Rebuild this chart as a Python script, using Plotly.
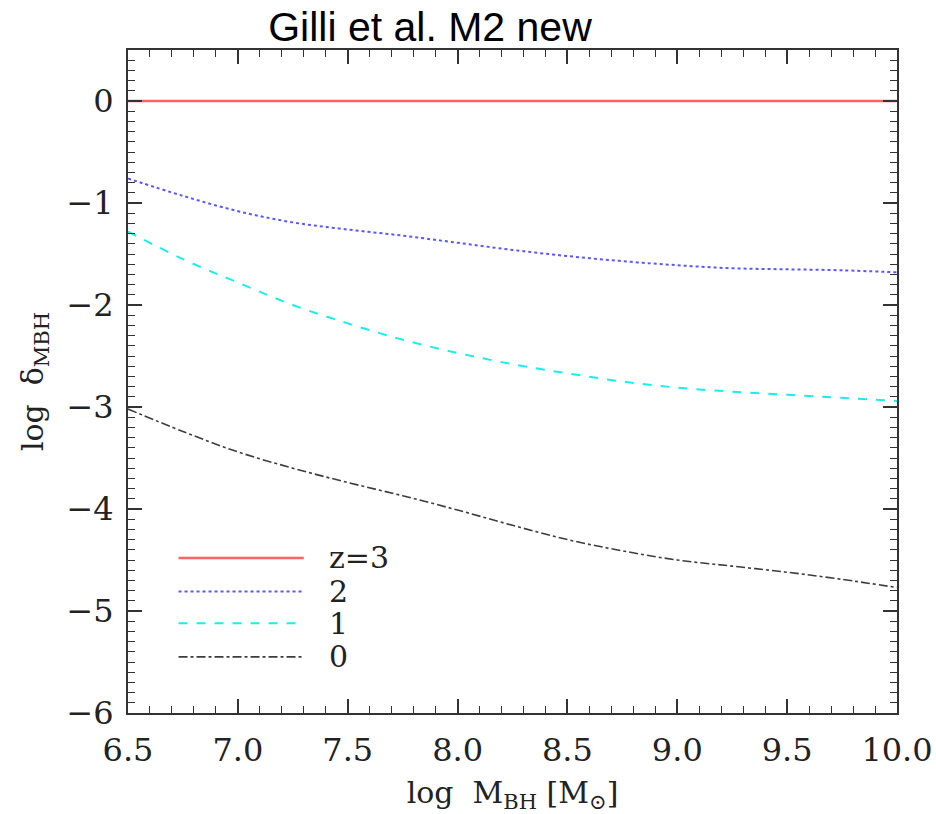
import plotly.graph_objects as go

# ---- data ----
log_mbh = [6.5, 6.75, 7.0, 7.25, 7.5, 7.75, 8.0, 8.25, 8.5, 8.75, 9.0, 9.25, 9.5, 9.75, 10.0]
delta_z3 = [0.0] * len(log_mbh)
delta_z2 = [-0.76, -0.93, -1.08, -1.19, -1.26, -1.32, -1.39, -1.46, -1.52, -1.57, -1.61, -1.64, -1.65, -1.66, -1.68]
delta_z1 = [-1.28, -1.55, -1.78, -2.00, -2.18, -2.34, -2.47, -2.58, -2.67, -2.75, -2.81, -2.85, -2.88, -2.91, -2.94]
delta_z0 = [-3.02, -3.24, -3.44, -3.60, -3.74, -3.87, -4.01, -4.16, -4.30, -4.41, -4.50, -4.56, -4.62, -4.69, -4.77]

legend_labels = ["z=3", "2", "1", "0"]
legend_y = [-4.48, -4.81, -5.12, -5.45]
legend_x = [6.73, 7.30]
legend_text_x = 7.41

x_ticks = [6.5, 7.0, 7.5, 8.0, 8.5, 9.0, 9.5, 10.0]
x_tick_labels = ["6.5", "7.0", "7.5", "8.0", "8.5", "9.0", "9.5", "10.0"]
y_ticks = [0, -1, -2, -3, -4, -5, -6]
y_tick_labels = ["0", "\u22121", "\u22122", "\u22123", "\u22124", "\u22125", "\u22126"]

styles = [
    dict(color="rgba(255,70,70,0.85)", width=2.5, dash="solid"),
    dict(color="rgba(70,70,255,0.9)", width=2, dash="dot"),
    dict(color="rgba(0,235,235,0.9)", width=2, dash="dash"),
    dict(color="rgba(40,40,40,0.9)", width=1.6, dash="dashdot"),
]
series = [delta_z3, delta_z2, delta_z1, delta_z0]

fig = go.Figure()
for s, st in zip(series, styles):
    fig.add_trace(go.Scatter(x=log_mbh, y=s, mode="lines", line=dict(shape="spline", **st),
                             showlegend=False, hoverinfo="skip"))

# in-plot legend
for lab, ly, st in zip(legend_labels, legend_y, styles):
    fig.add_trace(go.Scatter(x=legend_x, y=[ly, ly], mode="lines", line=st,
                             showlegend=False, hoverinfo="skip"))
    fig.add_annotation(x=legend_text_x, y=ly, text=lab, showarrow=False, xanchor="left",
                       yanchor="middle", borderpad=0,
                       font=dict(family="DejaVu Serif", size=30, color="#222"))

serif = "DejaVu Serif"
axis_common = dict(
    showgrid=False, zeroline=False, showline=True, linecolor="#333", linewidth=2,
    mirror="ticks", ticks="inside", ticklen=14, tickwidth=1.5, tickcolor="#333",
    tickfont=dict(family=serif, size=32, color="#222"), automargin=False,
)

fig.update_layout(
    width=936, height=814,
    margin=dict(l=128, r=39, t=50, b=101),
    paper_bgcolor="white", plot_bgcolor="white",
    title=dict(text="Gilli et al. M2 new", x=430 / 936, xanchor="center", y=1 - 27 / 814,
               yanchor="middle", font=dict(family="Liberation Sans", size=41, color="black")),
    xaxis=dict(range=[6.5, 10.0], tickvals=x_ticks, ticktext=x_tick_labels,
               ticklabelstandoff=8,
               minor=dict(dtick=0.1, ticks="inside", ticklen=7, tickwidth=1.2, tickcolor="#333"),
               title=dict(text="log  M<sub>BH</sub> [M<sub>\u2299</sub>]",
                          font=dict(family=serif, size=30, color="#222"), standoff=18),
               **axis_common),
    yaxis=dict(range=[-6, 0.5], tickvals=y_ticks, ticktext=y_tick_labels,
               ticklabelstandoff=6,
               minor=dict(dtick=0.1, ticks="inside", ticklen=7, tickwidth=1.2, tickcolor="#333"),
               title=dict(text="log  \u03b4<sub>MBH</sub>",
                          font=dict(family=serif, size=30, color="#222"), standoff=14),
               **axis_common),
)

fig.write_html("out.html")
